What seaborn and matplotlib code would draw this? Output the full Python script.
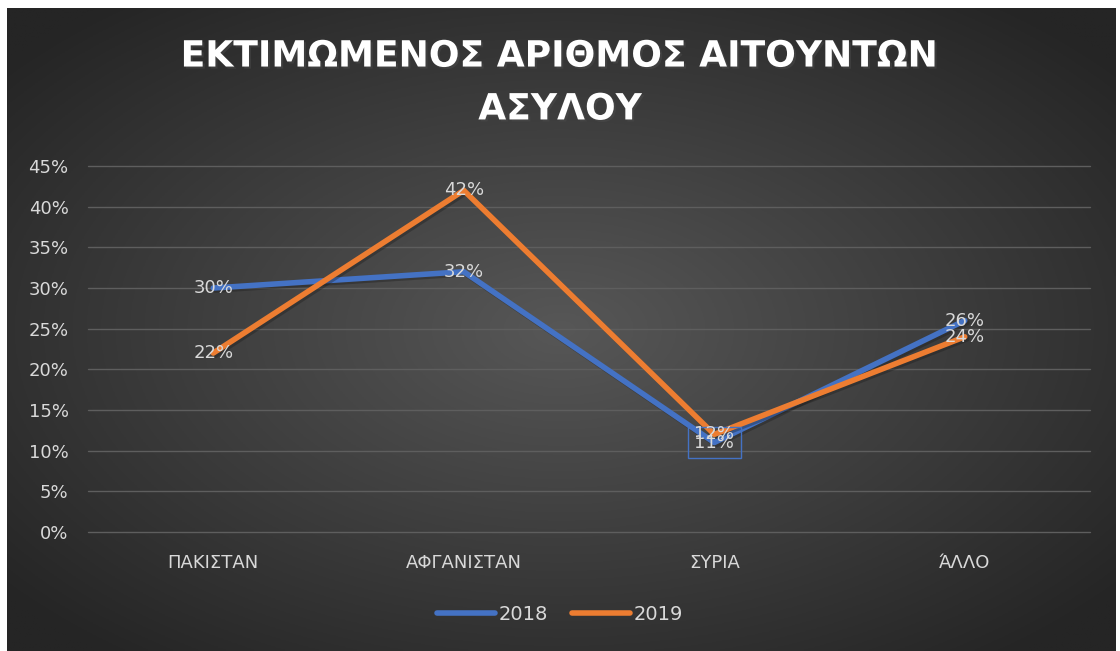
import numpy as np
import pandas as pd
import matplotlib
matplotlib.use("Agg")
import matplotlib.pyplot as plt
import matplotlib.patheffects as pe
from matplotlib.ticker import PercentFormatter
import seaborn as sns

# data
countries = ['ΠΑΚΙΣΤΑΝ', 'ΑΦΓΑΝΙΣΤΑΝ', 'ΣΥΡΙΑ', 'ΆΛΛΟ']
share_2018 = [0.30, 0.32, 0.11, 0.26]
share_2019 = [0.22, 0.42, 0.12, 0.24]
years = ['2018', '2019']
title = 'ΕΚΤΙΜΩΜΕΝΟΣ ΑΡΙΘΜΟΣ ΑΙΤΟΥΝΤΩΝ\nΑΣΥΛΟΥ'

df = pd.DataFrame({
    'country': countries * 2,
    'share': share_2018 + share_2019,
    'year': [years[0]] * 4 + [years[1]] * 4,
})

sns.set_theme(style='dark')
plt.rcParams['font.family'] = ['DejaVu Sans']

colors = {'2018': '#4472C4', '2019': '#ED7D31'}
text_col = '#D9D9D9'

fig = plt.figure(figsize=(11.2, 6.51), dpi=100)
fig.patch.set_facecolor('white')

# radial gradient background panel
bg = fig.add_axes([7 / 1120, 0, 1109 / 1120, 643 / 651])
gx, gy = np.meshgrid(np.linspace(-1, 1, 400), np.linspace(-1, 1, 240))
r = np.clip(np.sqrt(gx ** 2 + gy ** 2) / 1.3, 0, 1)
c0, c1 = 0x57 / 255, 0x25 / 255
shade = c0 + (c1 - c0) * r
bg.imshow(np.dstack([shade] * 3), aspect='auto', extent=[0, 1, 0, 1])
bg.set_axis_off()

ax = fig.add_axes([88 / 1120, 1 - 532 / 651, (1090 - 88) / 1120, (532 - 166) / 651])
ax.patch.set_alpha(0)

sns.lineplot(data=df, x='country', y='share', hue='year', palette=colors,
             sort=False, linewidth=4, ax=ax, legend=False,
             path_effects=[pe.SimpleLineShadow(offset=(1.5, -1.5), alpha=0.35), pe.Normal()])

# data labels centred on the points
for yr, vals in zip(years, [share_2018, share_2019]):
    for i, v in enumerate(vals):
        kw = {}
        if yr == '2018' and countries[i] == 'ΣΥΡΙΑ':
            kw['bbox'] = dict(boxstyle='square,pad=0.35', fc='none', ec='#4472C4', lw=1)
        ax.text(i, v, f'{round(v * 100):.0f}%', ha='center', va='center',
                color=text_col, fontsize=13, **kw)

ax.set_ylim(0, 0.45)
ax.set_xlim(-0.5, 3.5)
ax.set_yticks(np.arange(0, 0.451, 0.05))
ax.yaxis.set_major_formatter(PercentFormatter(1.0, decimals=0))
ax.tick_params(axis='both', colors=text_col, labelsize=13, length=0)
ax.tick_params(axis='y', pad=14)
ax.tick_params(axis='x', pad=16)
for lab in ax.get_xticklabels() + ax.get_yticklabels():
    lab.set_color(text_col)
ax.set_xlabel('')
ax.set_ylabel('')
ax.grid(axis='y', color='#5E5E5E', linewidth=1)
ax.grid(axis='x', visible=False)
for gl in ax.get_ygridlines():
    gl.set_clip_on(False)
for s in ax.spines.values():
    s.set_visible(False)

# legend
handles = [plt.Line2D([0], [0], color=colors[y], lw=4, solid_capstyle='round') for y in years]
fig.legend(handles, years, loc='center', bbox_to_anchor=(0.5, 1 - 614 / 651), ncol=2,
           frameon=False, fontsize=14, labelcolor=text_col, handlelength=3,
           handletextpad=0.2, columnspacing=1.2)

fig.text(0.5, 1 - 83 / 651, title, ha='center', va='center', color='white',
         fontsize=26, fontweight='bold', linespacing=1.7,
         path_effects=[pe.withSimplePatchShadow(offset=(1.5, -1.5), alpha=0.45)])

fig.savefig('out.png', dpi=100)
